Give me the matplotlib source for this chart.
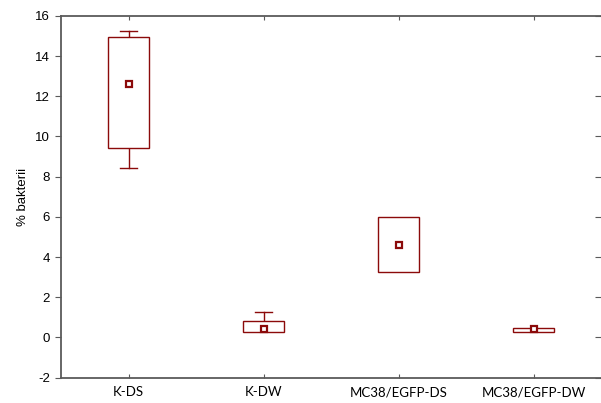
#!/usr/bin/env python3

import numpy as np
import matplotlib.pyplot as plt

groups = ["K-DS", "K-DW", "MC38/EGFP-DS", "MC38/EGFP-DW"]
means = [12.59, 0.41, 4.58, 0.40]
box_lo = [9.42, 0.26, 3.27, 0.27]
box_hi = [14.96, 0.82, 5.98, 0.49]
whisk_lo = [8.41, 0.26, 3.27, 0.27]
whisk_hi = [15.24, 1.28, 5.98, 0.49]

RED = "#8b0a0a"
SPINE = "#5a5a5a"


def main():
    plt.rcParams["axes.unicode_minus"] = False
    fig = plt.figure(figsize=(6.01, 4.03), dpi=100)
    ax = fig.add_axes([0.1015, 0.0628, 0.8985, 0.898])

    x = np.arange(len(groups))
    lo = np.array(box_lo)
    hi = np.array(box_hi)

    # whiskers (drawn first so the box covers them)
    for xi, wl, wh, bl, bh in zip(x, whisk_lo, whisk_hi, box_lo, box_hi):
        if wh > bh:
            ax.plot([xi, xi], [bh, wh], color=RED, lw=1.0, zorder=2)
            ax.plot([xi - 0.06, xi + 0.06], [wh, wh], color=RED, lw=1.0, zorder=2)
        if wl < bl:
            ax.plot([xi, xi], [wl, bl], color=RED, lw=1.0, zorder=2)
            ax.plot([xi - 0.06, xi + 0.06], [wl, wl], color=RED, lw=1.0, zorder=2)

    ax.bar(x, hi - lo, bottom=lo, width=0.30, color="white",
           edgecolor=RED, linewidth=1.0, zorder=3)
    ax.plot(x, means, ls="none", marker="s", ms=4.3, mfc="white",
            mec=RED, mew=1.6, zorder=4)

    ax.set_xlim(-0.5, 3.5)
    ax.set_ylim(-2, 16)
    ax.set_yticks(np.arange(-2, 17, 2))
    ax.set_xticks(x)
    ax.set_xticklabels(groups, family="Lato", fontsize=9.5)
    for lab in ax.get_yticklabels():
        lab.set_family("Liberation Sans")
        lab.set_fontsize(9.5)
    ax.set_ylabel("% bakterii", family="Liberation Sans", fontsize=9.5, labelpad=4)

    ax.spines["right"].set_visible(False)
    for s in ("left", "top", "bottom"):
        ax.spines[s].set_color(SPINE)
        ax.spines[s].set_linewidth(1.3)

    ax.tick_params(axis="y", left=True, right=True, direction="in",
                   length=4, color=SPINE, pad=8)
    ax.tick_params(axis="x", top=True, bottom=True, direction="in",
                   length=3, color=SPINE, pad=6)
    # left ticks point outward, right ticks inward
    for t in ax.yaxis.get_major_ticks():
        t.tick1line.set_marker(0)  # TICKLEFT

    fig.savefig("out.png", dpi=100)


if __name__ == "__main__":
    main()
